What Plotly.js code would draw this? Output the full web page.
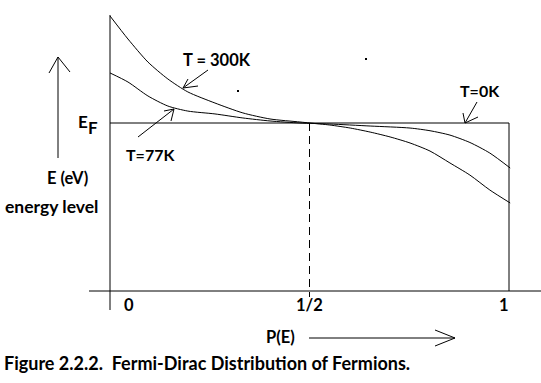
<!DOCTYPE html>
<html>
<head>
<meta charset="utf-8">
<script src="https://cdn.plot.ly/plotly-3.0.1.min.js"></script>
<style>html,body{margin:0;padding:0;background:#fff;}#chart{width:541px;height:383px;}</style>
</head>
<body>
<div id="chart"></div>
<script>
// ---- data (P = probability, E = energy in units of E_F) ----
const EF = 1;
const P_300K = [0.000, 0.045, 0.095, 0.145, 0.195, 0.263, 0.333, 0.401, 0.476, 0.501, 0.551, 0.602, 0.652, 0.702, 0.752, 0.802, 0.852, 0.902, 0.952, 1.003];
const E_300K = [1.637, 1.500, 1.363, 1.262, 1.185, 1.119, 1.060, 1.024, 1.006, 1.000, 0.988, 0.970, 0.946, 0.917, 0.881, 0.833, 0.762, 0.690, 0.601, 0.524];
const P_77K = [0.000, 0.045, 0.095, 0.145, 0.195, 0.263, 0.333, 0.401, 0.476, 0.551, 0.652, 0.752, 0.802, 0.852, 0.902, 0.952, 1.003];
const E_77K = [1.298, 1.244, 1.161, 1.101, 1.071, 1.054, 1.030, 1.012, 1.000, 0.994, 0.982, 0.970, 0.954, 0.928, 0.884, 0.821, 0.732];
const P_0K = [0, 1, 1];
const E_0K = [EF, EF, 0];
const tickVals = [0, 0.5, 1];
const tickText = ['0', '1/2', '1'];
const curveLabels = ['T = 300K', 'T=77K', 'T=0K'];

// ---- layout helpers ----
const W = 541, H = 383;
const X0 = 110, X1 = 509, Y0 = 291, YF = 123;   // pixel anchors
const pxToP = x => (x - X0) / (X1 - X0);
const pyToE = y => (Y0 - y) / (Y0 - YF) * EF;
const xr = [pxToP(0), pxToP(W)];
const yr = [pyToE(H), pyToE(0)];
const fx = x => x / W, fy = y => 1 - y / H;
const lineShape = (x0, y0, x1, y1, extra) => Object.assign({
  type: 'line', xref: 'paper', yref: 'paper',
  x0: fx(x0), y0: fy(y0), x1: fx(x1), y1: fy(y1),
  line: {color: '#000', width: 1}
}, extra || {});

const black = {color: '#000', width: 1};
const traces = [
  {x: P_300K, y: E_300K, mode: 'lines', line: Object.assign({shape: 'spline', smoothing: 0.7}, black), name: curveLabels[0], hoverinfo: 'skip'},
  {x: P_77K, y: E_77K, mode: 'lines', line: Object.assign({shape: 'spline', smoothing: 0.7}, black), name: curveLabels[1], hoverinfo: 'skip'},
  {x: P_0K, y: E_0K, mode: 'lines', line: black, name: curveLabels[2], hoverinfo: 'skip'}
];

const shapes = [
  // axes
  {type: 'line', xref: 'x', yref: 'y', x0: 0, x1: 0, y0: pyToE(310), y1: pyToE(15), line: black},
  {type: 'line', xref: 'x', yref: 'y', x0: pxToP(89), x1: pxToP(541), y0: 0, y1: 0, line: black},
  // dashed line at P = 1/2
  {type: 'line', xref: 'x', yref: 'y', x0: tickVals[1], x1: tickVals[1], y0: EF, y1: pyToE(297), line: {color: '#000', width: 1, dash: '8px,5px'}},
  // up arrow (E)
  lineShape(58, 158, 58, 57), lineShape(49, 73, 58, 57), lineShape(70, 72, 58, 57),
  // P(E) arrow
  lineShape(309, 338, 455, 338), lineShape(435, 330, 455, 338), lineShape(435, 346, 455, 338),
  // 300K pointer
  lineShape(208, 70, 183, 88), lineShape(188, 79, 183, 88), lineShape(198, 86, 183, 88),
  // 77K pointer
  lineShape(138, 137, 174, 109), lineShape(164, 111, 174, 109), lineShape(171, 121, 174, 109),
  // 0K pointer
  lineShape(477, 102, 465, 123), lineShape(463, 113, 465, 123), lineShape(478, 117, 465, 123),
  // specks
  {type: 'rect', xref: 'paper', yref: 'paper', x0: fx(237), x1: fx(239), y0: fy(90), y1: fy(92), fillcolor: '#000', line: {width: 0}},
  {type: 'rect', xref: 'paper', yref: 'paper', x0: fx(365), x1: fx(367), y0: fy(58), y1: fy(60), fillcolor: '#000', line: {width: 0}}
];

const FONT = 'Lato, "Open Sans", sans-serif';
const txt = (s, x, y, size, anchor) => ({
  text: s, xref: 'paper', yref: 'paper', x: fx(x), y: fy(y),
  xanchor: anchor || 'center', yanchor: 'middle', showarrow: false,
  font: {family: FONT, size: size || 16, color: '#000', weight: 'bold'}
});
const tickShift = [19, 0, -5];
const annotations = [
  txt(curveLabels[0], 217, 60, 16.5),
  txt(curveLabels[1], 150, 154),
  txt(curveLabels[2], 480, 91),
  txt('E', 82.5, 121, 17),
  txt('F', 93, 127, 17),
  txt('E (eV)', 67, 178, 16.5),
  txt('energy level', 51.5, 206, 17.5),
  txt('P(E)', 280, 337, 16.5),
  txt('Figure 2.2.2.  Fermi-Dirac Distribution of Fermions.', 2, 363, 18, 'left')
];
tickVals.forEach((v, i) => {
  const a = txt(tickText[i], 0, 305, 16.5);
  a.xref = 'x'; a.x = v; a.xshift = tickShift[i];
  annotations.push(a);
});

const layout = {
  width: W, height: H,
  margin: {l: 0, r: 0, t: 0, b: 0, pad: 0},
  paper_bgcolor: '#fff', plot_bgcolor: '#fff',
  showlegend: false,
  xaxis: {range: xr, visible: false, fixedrange: true},
  yaxis: {range: yr, visible: false, fixedrange: true},
  shapes: shapes,
  annotations: annotations
};
Plotly.newPlot('chart', traces, layout, {staticPlot: true, displayModeBar: false});
</script>
</body>
</html>
